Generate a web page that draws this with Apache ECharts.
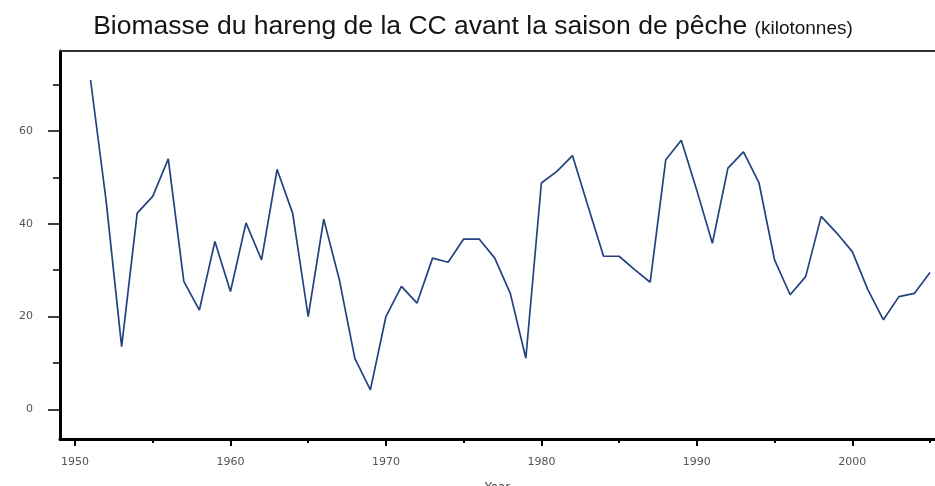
<!DOCTYPE html>
<html>
<head>
<meta charset="utf-8">
<script src="https://cdn.jsdelivr.net/npm/echarts@6/dist/echarts.min.js"></script>
<style>
    html, body { margin: 0; padding: 0; background: #fff; }
    #chart { width: 935px; height: 486px; }
</style>
</head>
<body>
<div id="chart"></div>
<script>
// biomasse (kilotonnes) par année
var years = [];
for (var y = 1951; y <= 2005; y++) years.push(y);
var biomass = [
    71, 45, 13.5, 42.3, 45.9, 54, 27.6, 21.4, 36.2, 25.4,
    40.2, 32.2, 51.7, 42.3, 20, 41, 28, 11, 4.2, 20,
    26.5, 22.9, 32.6, 31.7, 36.7, 36.7, 32.6, 25, 11, 48.8,
    51.3, 54.7, 43.8, 33, 33, 30.1, 27.4, 53.8, 58, 47.2,
    35.8, 52, 55.5, 48.8, 32.2, 24.7, 28.6, 41.6, 38, 34,
    25.8, 19.3, 24.3, 25, 29.5
];
var xLabels = [1950, 1960, 1970, 1980, 1990, 2000];
var xMinor = [1955, 1965, 1975, 1985, 1995, 2005];
var yLabels = [0, 20, 40, 60];
var yMinor = [10, 30, 50, 70];

var xMin = 1949.035, xMax = 2005.32;
var yMin = -6.4, yMax = 77.25;
var labelFont = {
    color: '#555', fontSize: 11, fontFamily: 'DejaVu Sans',
    formatter: function(v){ return String(v); }
};

var chrt = echarts.init(document.getElementById('chart'));
chrt.setOption({
    animation: false,
    title: {
        text: '{main|Biomasse du hareng de la CC avant la saison de pêche }{small|(kilotonnes)}',
        left: 468,
        textAlign: 'center',
        top: 8,
        textStyle: {
            rich: {
                main: { fontSize: 26.5, color: '#151515', fontWeight: 'normal', fontFamily: 'Liberation Sans' },
                small: { fontSize: 19, color: '#151515', fontWeight: 'normal', fontFamily: 'Liberation Sans', padding: [4, 0, 0, 0] }
            }
        }
    },
    grid: { left: 60, right: 0, top: 51, bottom: 47, outerBoundsMode: 'none', containLabel: false },
    xAxis: [{
        type: 'value', min: xMin, max: xMax,
        name: 'Year', nameLocation: 'middle', nameGap: 43,
        nameTextStyle: { color: '#444', fontSize: 12, fontFamily: 'DejaVu Sans' },
        splitLine: { show: false },
        axisLine: { onZero: false, lineStyle: { color: '#000', width: 3 } },
        axisTick: { customValues: xLabels, length: 7, lineStyle: { color: '#000', width: 2 } },
        axisLabel: Object.assign({ customValues: xLabels, margin: 18 }, labelFont)
    }, {
        type: 'value', min: xMin, max: xMax, position: 'bottom',
        splitLine: { show: false }, axisLabel: { show: false },
        axisLine: { show: false, onZero: false },
        axisTick: { customValues: xMinor, length: 4, lineStyle: { color: '#000', width: 2 } }
    }, {
        type: 'value', min: xMin, max: xMax, position: 'top',
        splitLine: { show: false }, axisTick: { show: false }, axisLabel: { show: false },
        axisLine: { onZero: false, lineStyle: { color: '#333', width: 2 } }
    }],
    yAxis: [{
        type: 'value', min: yMin, max: yMax,
        splitLine: { show: false },
        axisLine: { show: true, onZero: false, lineStyle: { color: '#000', width: 3 } },
        axisTick: { customValues: yLabels, length: 12, lineStyle: { color: '#000', width: 1.5 } },
        axisLabel: Object.assign({ customValues: yLabels, margin: 27 }, labelFont)
    }, {
        type: 'value', min: yMin, max: yMax, position: 'left',
        splitLine: { show: false }, axisLabel: { show: false },
        axisLine: { show: false, onZero: false },
        axisTick: { customValues: yMinor, length: 7, lineStyle: { color: '#000', width: 1.5 } }
    }],
    series: [{
        type: 'line',
        xAxisIndex: 0,
        yAxisIndex: 0,
        data: years.map(function(yr, i){ return [yr, biomass[i]]; }),
        showSymbol: false,
        lineStyle: { color: '#23427f', width: 1.7 }
    }]
});
</script>
</body>
</html>
